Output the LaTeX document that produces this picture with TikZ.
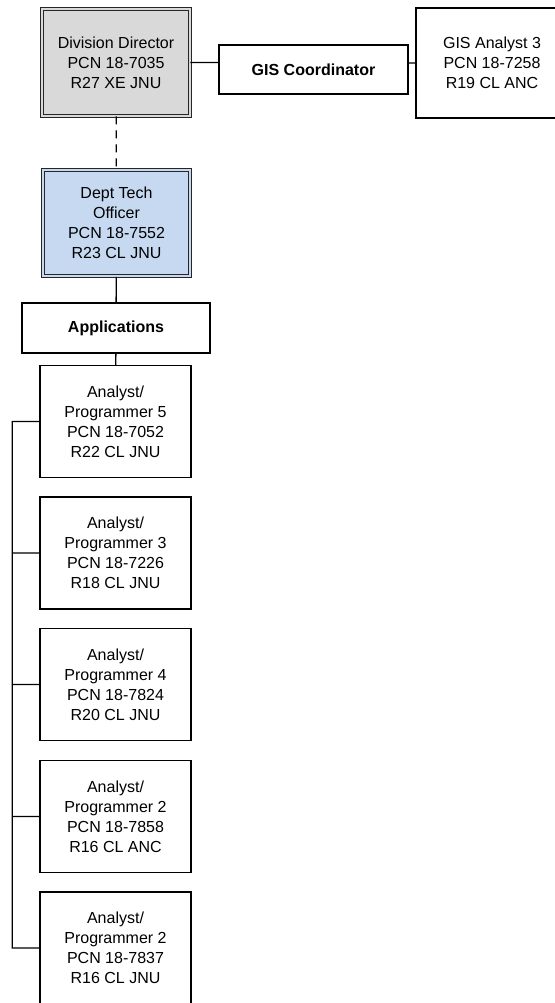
\documentclass[tikz,border=0pt]{standalone}
\usepackage{fontspec}
\setmainfont{Liberation Sans}
\definecolor{dirgray}{HTML}{D9D9D9}
\definecolor{techblue}{HTML}{C6D9F1}

\begin{document}
\begin{tikzpicture}[x=1pt,y=-1pt,
    every node/.style={rectangle,draw=black,line width=1.1pt,align=center,
        inner sep=0pt,font=\fontsize{16}{20}\selectfont},
    post/.style={minimum width=151pt,minimum height=112pt},
    head/.style={minimum width=147.5pt,minimum height=106.5pt,
        draw=black!85,line width=1.1pt,double distance=2.2pt},
    unit/.style={minimum height=49pt,font=\fontsize{16}{20}\selectfont\bfseries}]
    \useasboundingbox (0,0) rectangle (554,1003);

    \node[head,fill=dirgray,double=dirgray] (A) at (116,62.5) {Division Director\\PCN 18-7035\\R27 XE JNU};
    \node[unit,minimum width=189pt] (B) at (313.5,69.5) {GIS Coordinator};
    \node[post,minimum width=152pt,minimum height=110pt] (C) at (492,63) {GIS Analyst 3\\PCN 18-7258\\R19 CL ANC};
    \node[head,fill=techblue,double=techblue] (D) at (116.5,223) {Dept Tech\\Officer\\PCN 18-7552\\R23 CL JNU};
    \node[unit,minimum width=188pt,minimum height=50pt] (E) at (116,328) {Applications};
    \node[post] (F) at (115.5,421.5) {Analyst/\\Programmer 5\\PCN 18-7052\\R22 CL JNU};
    \node[post] (G) at (115.5,553) {Analyst/\\Programmer 3\\PCN 18-7226\\R18 CL JNU};
    \node[post] (H) at (115.5,684.5) {Analyst/\\Programmer 4\\PCN 18-7824\\R20 CL JNU};
    \node[post] (I) at (115.5,816.5) {Analyst/\\Programmer 2\\PCN 18-7858\\R16 CL ANC};
    \node[post] (J) at (115.5,948) {Analyst/\\Programmer 2\\PCN 18-7837\\R16 CL JNU};

    \draw[line width=1.3pt,dash pattern=on 8pt off 6pt] (A) -- (D);
    \draw[line width=1.3pt]
        (A.east) -- (A.east -| B.west)
        (B.east |- C.west) -- (C.west)
        (D) -- (E)
        (E) -- (F)
        (F.west) -- ++(-27.3,0) |- (J.west)
        (G.west) -- ++(-27.3,0)
        (H.west) -- ++(-27.3,0)
        (I.west) -- ++(-27.3,0);
\end{tikzpicture}
\end{document}
